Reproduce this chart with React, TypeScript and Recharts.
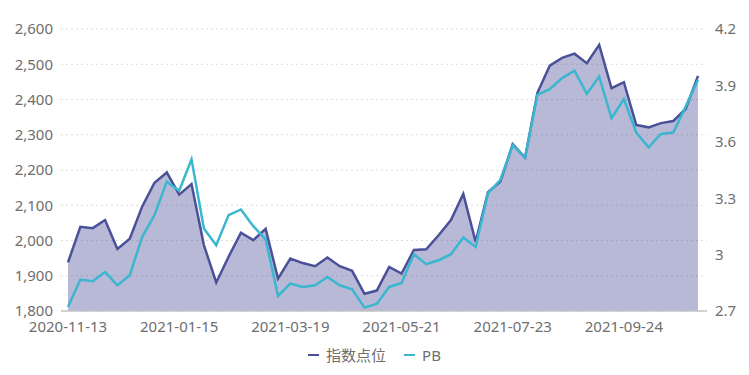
import React from "react";
import {
  Area,
  CartesianGrid,
  ComposedChart,
  Legend,
  Line,
  XAxis,
  YAxis,
} from "recharts";

// ─── Data ────────────────────────────────────────────────────────────────────
const DATES = [
  "2020-11-13", "2020-11-20", "2020-11-27", "2020-12-04", "2020-12-11", "2020-12-18", "2020-12-25",
  "2021-01-01", "2021-01-08", "2021-01-15", "2021-01-22", "2021-01-29", "2021-02-05", "2021-02-12",
  "2021-02-19", "2021-02-26", "2021-03-05", "2021-03-12", "2021-03-19", "2021-03-26", "2021-04-02",
  "2021-04-09", "2021-04-16", "2021-04-23", "2021-04-30", "2021-05-07", "2021-05-14", "2021-05-21",
  "2021-05-28", "2021-06-04", "2021-06-11", "2021-06-18", "2021-06-25", "2021-07-02", "2021-07-09",
  "2021-07-16", "2021-07-23", "2021-07-30", "2021-08-06", "2021-08-13", "2021-08-20", "2021-08-27",
  "2021-09-03", "2021-09-10", "2021-09-17", "2021-09-24", "2021-10-01", "2021-10-08", "2021-10-15",
  "2021-10-22", "2021-10-29", "2021-11-05",
];

const INDEX_POINTS = [
  1938, 2039, 2035, 2058, 1976, 2005, 2096, 2164, 2193, 2130, 2160, 1987, 1881,
  1954, 2022, 2001, 2033, 1892, 1949, 1936, 1927, 1952, 1927, 1914, 1849, 1858,
  1925, 1906, 1973, 1975, 2015, 2058, 2132, 1996, 2137, 2167, 2273, 2235, 2419,
  2496, 2518, 2530, 2503, 2555, 2432, 2449, 2328, 2321, 2333, 2339, 2373, 2467,
];

const PB = [
  2.721, 2.867, 2.858, 2.908, 2.837, 2.89, 3.094, 3.21, 3.388, 3.34, 3.507, 3.139, 3.05,
  3.21, 3.24, 3.151, 3.081, 2.78, 2.846, 2.828, 2.837, 2.881, 2.837, 2.816, 2.718, 2.739,
  2.828, 2.849, 3.002, 2.949, 2.97, 3.002, 3.091, 3.041, 3.326, 3.397, 3.583, 3.515, 3.85,
  3.88, 3.939, 3.978, 3.855, 3.947, 3.725, 3.827, 3.649, 3.571, 3.642, 3.649, 3.787, 3.93,
];

const LEFT_TICKS = [1800, 1900, 2000, 2100, 2200, 2300, 2400, 2500, 2600];
const RIGHT_TICKS = [2.7, 3, 3.3, 3.6, 3.9, 4.2];

const data = DATES.map((date, i) => ({ date, index: INDEX_POINTS[i], pb: PB[i] }));

const INDEX_COLOR = "#4b5199";
const PB_COLOR = "#3ab7cf";
const TEXT_COLOR = "#6e6e6e";
const FONT = '"Noto Sans", "Noto Sans CJK SC", sans-serif';

const LEGEND_ITEMS = [
  { name: "指数点位", color: INDEX_COLOR },
  { name: "PB", color: PB_COLOR },
];

function ChartLegend() {
  return (
    <div
      style={{
        display: "flex",
        justifyContent: "center",
        alignItems: "center",
        height: 24,
        gap: 18,
        fontFamily: FONT,
        fontSize: 15,
        color: TEXT_COLOR,
      }}
    >
      {LEGEND_ITEMS.map((item) => (
        <div key={item.name} style={{ display: "flex", alignItems: "center", gap: 7 }}>
          <span style={{ display: "inline-block", width: 11, height: 2, background: item.color }} />
          <span style={{ lineHeight: "24px" }}>{item.name}</span>
        </div>
      ))}
    </div>
  );
}

export default function App() {
  const tick = { fontSize: 15, fill: TEXT_COLOR, fontFamily: FONT };

  return (
    <div style={{ position: "absolute", left: 0, top: 0, background: "#fff" }}>
      <ComposedChart
        width={749}
        height={375}
        data={data}
        margin={{ top: 29, right: 0, bottom: 8, left: 0 }}
      >
        <CartesianGrid
          yAxisId="left"
          vertical={false}
          stroke="#dcdcdc"
          strokeDasharray="2 3"
        />
        <XAxis
          dataKey="date"
          scale="point"
          padding={{ left: 7, right: 9 }}
          interval={8}
          height={32}
          tickLine={false}
          tickMargin={4}
          axisLine={{ stroke: "#c4c4c4", strokeWidth: 1.5 }}
          tick={tick}
        />
        <YAxis
          yAxisId="left"
          width={61}
          domain={[1800, 2600]}
          ticks={LEFT_TICKS}
          axisLine={false}
          tickLine={false}
          tick={tick}
          tickFormatter={(v: number) => v.toLocaleString("en-US")}
        />
        <YAxis
          yAxisId="right"
          orientation="right"
          width={42}
          domain={[2.7, 4.2]}
          ticks={RIGHT_TICKS}
          axisLine={false}
          tickLine={false}
          tick={{ ...tick, textAnchor: "start" }}
        />
        <Area
          yAxisId="left"
          type="linear"
          dataKey="index"
          name="指数点位"
          stroke={INDEX_COLOR}
          strokeWidth={2.5}
          fill={INDEX_COLOR}
          fillOpacity={0.4}
          dot={false}
          activeDot={false}
          isAnimationActive={false}
        />
        <Line
          yAxisId="right"
          type="linear"
          dataKey="pb"
          name="PB"
          stroke={PB_COLOR}
          strokeWidth={2.5}
          dot={false}
          activeDot={false}
          isAnimationActive={false}
        />
        <Legend verticalAlign="bottom" content={() => <ChartLegend />} />
      </ComposedChart>
    </div>
  );
}
